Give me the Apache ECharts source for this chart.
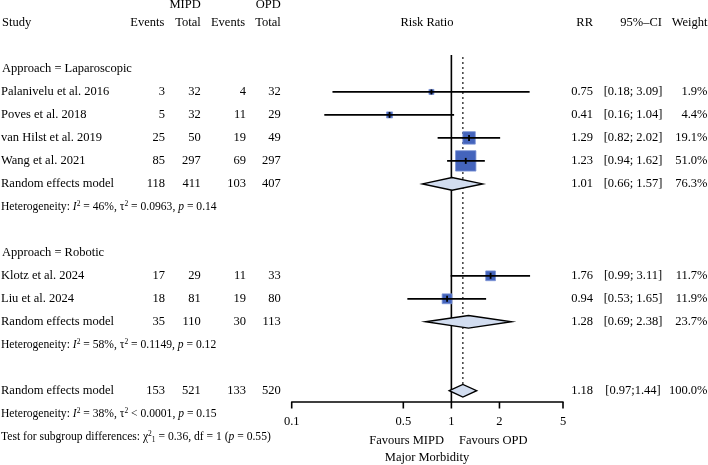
<!DOCTYPE html>
<html><head><meta charset="utf-8">
<script src="https://cdn.jsdelivr.net/npm/echarts@6/dist/echarts.min.js"></script>
<style>html,body{margin:0;padding:0;background:#fff}#c{width:708px;height:465px}</style>
</head><body><div id="c"></div>
<script>
// ---------- data ----------
const studies = ['Palanivelu et al. 2016','Poves et al. 2018','van Hilst et al. 2019','Wang et al. 2021','Klotz et al. 2024','Liu et al. 2024'];
const studyRows = [3,4,5,6,11,12];
const mipdEvents = [3,5,25,85,17,18];
const mipdTotal = [32,32,50,297,29,81];
const opdEvents = [4,11,19,69,11,19];
const opdTotal = [32,29,49,297,33,80];
const rr = [0.75,0.41,1.29,1.23,1.76,0.94];
const lower = [0.18,0.16,0.82,0.94,0.99,0.53];
const upper = [3.09,1.04,2.02,1.62,3.11,1.65];
const weight = [1.9,4.4,19.1,51.0,11.7,11.9];

const groupLabels = ['Approach = Laparoscopic','Approach = Robotic'];
const groupRows = [2,10];

const poolLabel = 'Random effects model';
const poolRows = [7,13,16];
const poolMipdEvents = [118,35,153];
const poolMipdTotal = [411,110,521];
const poolOpdEvents = [103,30,133];
const poolOpdTotal = [407,113,520];
const poolRR = [1.01,1.28,1.18];
const poolLower = [0.66,0.69,0.97];
const poolUpper = [1.57,2.38,1.44];
const poolCI = ['[0.66; 1.57]','[0.69; 2.38]','[0.97;1.44]'];
const poolWeight = ['76.3%','23.7%','100.0%'];

const hetRows = [8,14,17];
const hetI2 = ['46%','58%','38%'];
const hetTau2 = ['= 0.0963','= 0.1149','< 0.0001'];
const hetP = ['0.14','0.12','0.15'];
const testRow = 18;
const testChi2 = '0.36', testDf = '1', testP = '0.55';

const tickValues = [0.1,0.5,1,2,5];
const tickLabels = ['0.1','0.5','1','2','5'];
const leftLabel = 'Favours MIPD', rightLabel = 'Favours OPD', xTitle = 'Major Morbidity';

// ---------- styling ----------
const FONT = '"Liberation Serif","Times New Roman",serif';
const FS = 12.5, FSS = 11.6;
const COL = {evM:165, totM:200.7, evO:246, totO:280.7, rr:593, ci:633, ciHead:662, w:707.5};
const sup = {fontSize:7.5, fontFamily:FONT, fill:'#000', verticalAlign:'top', lineHeight:8};
const sub = {fontSize:7.5, fontFamily:FONT, fill:'#000', verticalAlign:'bottom', lineHeight:8};
const it = {fontSize:FSS, fontFamily:FONT, fill:'#000', fontStyle:'italic', lineHeight:14};
const nm = {fontSize:FSS, fontFamily:FONT, fill:'#000', lineHeight:14};
const richSmall = {sup, sub, i:it, n:nm};

// ---------- table cells ----------
const cells = [];
function cell(row, x, text, align, size, rich, xv){ cells.push({row, x, text, align: align||'left', size: size||FS, rich, xv}); }
cell(-0.78, COL.totM, 'MIPD', 'right');
cell(-0.78, COL.totO, 'OPD', 'right');
cell(0, 2, 'Study');
cell(0, 164.3, 'Events', 'right');
cell(0, COL.totM, 'Total', 'right');
cell(0, 245, 'Events', 'right');
cell(0, COL.totO, 'Total', 'right');
cell(0, 427, 'Risk Ratio', 'center');
cell(0, COL.rr, 'RR', 'right');
cell(0, COL.ciHead, '95%\u2013CI', 'right');
cell(0, COL.w, 'Weight', 'right');
groupLabels.forEach((g,i)=>cell(groupRows[i], 2, g));
studies.forEach((s,i)=>{
  const r = studyRows[i];
  cell(r, 1, s);
  cell(r, COL.evM, String(mipdEvents[i]), 'right');
  cell(r, COL.totM, String(mipdTotal[i]), 'right');
  cell(r, COL.evO, String(opdEvents[i]), 'right');
  cell(r, COL.totO, String(opdTotal[i]), 'right');
  cell(r, COL.rr, rr[i].toFixed(2), 'right');
  cell(r, COL.ci, '[' + lower[i].toFixed(2) + '; ' + upper[i].toFixed(2) + ']', 'center');
  cell(r, COL.w, weight[i].toFixed(1) + '%', 'right');
});
poolRows.forEach((r,i)=>{
  cell(r, 1, poolLabel);
  cell(r, COL.evM, String(poolMipdEvents[i]), 'right');
  cell(r, COL.totM, String(poolMipdTotal[i]), 'right');
  cell(r, COL.evO, String(poolOpdEvents[i]), 'right');
  cell(r, COL.totO, String(poolOpdTotal[i]), 'right');
  cell(r, COL.rr, poolRR[i].toFixed(2), 'right');
  cell(r, COL.ci, poolCI[i], 'center');
  cell(r, COL.w, poolWeight[i], 'right');
});
hetRows.forEach((r,i)=>{
  cell(r, 1, '{n|Heterogeneity: }{i|I}{sup|2}{n| = ' + hetI2[i] + ', \u03c4}{sup|2}{n| ' + hetTau2[i] + ', }{i|p}{n| = ' + hetP[i] + '}', 'left', FSS, richSmall);
});
cell(testRow, 1, '{n|Test for subgroup differences: \u03c7}{sup|2}{sub|' + testDf + '}{n| = ' + testChi2 + ', df = ' + testDf + ' (}{i|p}{n| = ' + testP + ')}', 'left', FSS, richSmall);
tickValues.forEach((v,i)=>cell(17.36, null, tickLabels[i], 'center', FS, null, v));
cell(18.19, 444, leftLabel, 'right');
cell(18.19, 459, rightLabel, 'left');
cell(18.93, 427, xTitle, 'center');

// ---------- chart ----------
const chart = echarts.init(document.getElementById('c'), null, {renderer:'canvas'});

function renderStudy(params, api){
  const v = api.value(0), lo = api.value(1), hi = api.value(2), w = api.value(3), row = api.value(4);
  const c = api.coord([v,row]), a = api.coord([lo,row]), b = api.coord([hi,row]);
  const s = Math.max(5, 2.85*Math.sqrt(w));
  const t = Math.min(3, s/2);
  return {type:'group', children:[
    {type:'rect', shape:{x:c[0]-s/2, y:c[1]-s/2, width:s, height:s}, style:{fill:'#4464BC', stroke:'#7890D4', lineWidth:0.8}},
    {type:'line', shape:{x1:a[0], y1:a[1], x2:b[0], y2:b[1]}, style:{stroke:'#000', lineWidth:1.8}},
    {type:'line', shape:{x1:c[0], y1:c[1]-t, x2:c[0], y2:c[1]+t}, style:{stroke:'#000', lineWidth:1.8}}
  ]};
}
function renderPool(params, api){
  const v = api.value(0), lo = api.value(1), hi = api.value(2), row = api.value(3);
  const c = api.coord([v,row]), a = api.coord([lo,row]), b = api.coord([hi,row]);
  const h = 6.3;
  return {type:'polygon', shape:{points:[[a[0],a[1]],[c[0],c[1]-h],[b[0],b[1]],[c[0],c[1]+h]]},
    style:{fill:'#D2DDF0', stroke:'#000', lineWidth:1.4}};
}
function renderRefs(params, api){
  const cs = params.coordSys;
  const bottom = cs.y + cs.height;
  const x1 = api.coord([1, 0])[0];
  const xo = api.coord([poolRR[2], 0])[0];
  const diamondTop = api.coord([1, poolRows[2]])[1] - 6;
  const children = [
    {type:'line', shape:{x1:x1, y1:api.coord([1,1.39])[1], x2:x1, y2:bottom}, style:{stroke:'#000', lineWidth:1.6}},
    {type:'line', shape:{x1:xo, y1:api.coord([1,1.48])[1], x2:xo, y2:diamondTop}, style:{stroke:'#222', lineWidth:1.3, lineDash:[2,3]}}
  ];
  tickValues.forEach(v=>{
    const x = api.coord([v,0])[0];
    children.push({type:'line', shape:{x1:x, y1:bottom, x2:x, y2:bottom+6.5}, style:{stroke:'#000', lineWidth:1.6}});
  });
  return {type:'group', children};
}
function renderCell(params, api){
  const c = cells[params.dataIndex];
  const y = api.coord([1, c.row])[1];
  const x = c.xv != null ? api.coord([c.xv, 0])[0] : c.x;
  const style = {text:c.text, fill:'#000', fontFamily:FONT, fontSize:c.size, align:c.align, verticalAlign:'middle'};
  if (c.rich) style.rich = c.rich;
  return {type:'text', x, y, style};
}

chart.setOption({
  animation:false,
  backgroundColor:'#fff',
  grid:{left:291.7, right:145, top:0, bottom:63, containLabel:false, outerBoundsMode:'none'},
  xAxis:{type:'log', logBase:10, min:0.1, max:5,
    axisLine:{show:true, onZero:false, lineStyle:{color:'#000', width:1.6}},
    axisTick:{show:false}, axisLabel:{show:false}, splitLine:{show:false}, minorTick:{show:false}},
  yAxis:{type:'value', min:-1, max:16.49, inverse:true, show:false, splitLine:{show:false}},
  series:[
    {type:'custom', renderItem:renderRefs, data:[[1,0]], encode:{x:0,y:1}, silent:true, z:1},
    {type:'custom', renderItem:renderStudy, data:studies.map((s,i)=>[rr[i],lower[i],upper[i],weight[i],studyRows[i]]), encode:{x:[0,1,2], y:4}, silent:true, z:3},
    {type:'custom', renderItem:renderPool, data:poolRows.map((r,i)=>[poolRR[i],poolLower[i],poolUpper[i],r]), encode:{x:[0,1,2], y:3}, silent:true, z:3},
    {type:'custom', renderItem:renderCell, data:cells.map(c=>[1,c.row]), encode:{x:0,y:1}, silent:true, z:5}
  ]
});
</script>
</body></html>
